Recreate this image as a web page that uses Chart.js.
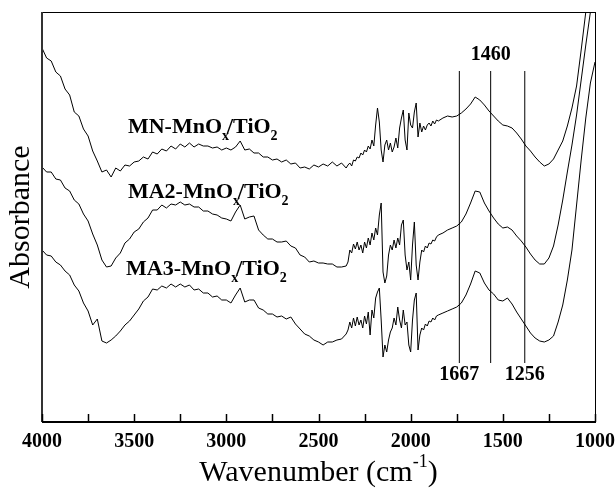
<!DOCTYPE html>
<html>
<head>
<meta charset="utf-8">
<script src="https://cdn.jsdelivr.net/npm/chart.js@4.4.0/dist/chart.umd.min.js"></script>
<style>
    html, body { margin: 0; padding: 0; background: #fff; }
</style>
</head>
<body>
<canvas id="myChart" width="616" height="489"></canvas>
<script>
// wavenumbers (cm-1), shared by the three spectra
var wavenumber = [
    4000, 3975, 3950, 3925, 3900, 3875, 3850, 3825, 3800, 3775,
    3750, 3725, 3700, 3675, 3650, 3625, 3600, 3575, 3550, 3525,
    3500, 3475, 3450, 3425, 3400, 3375, 3350, 3325, 3300, 3275,
    3250, 3225, 3200, 3175, 3150, 3125, 3100, 3075, 3050, 3025,
    3000, 2975, 2950, 2925, 2900, 2875, 2850, 2825, 2800, 2775,
    2750, 2725, 2700, 2675, 2650, 2625, 2600, 2575, 2550, 2525,
    2500, 2475, 2450, 2425, 2400, 2375,
    2350, 2340, 2330, 2320, 2310, 2300, 2290, 2280, 2270, 2260,
    2250, 2240, 2230, 2220, 2210, 2200, 2190, 2180, 2170, 2160,
    2150, 2140, 2130, 2120, 2110, 2100, 2090, 2080, 2070, 2060,
    2050, 2040, 2030, 2020, 2010, 2000, 1990, 1980, 1970, 1960,
    1950, 1940, 1930, 1920, 1910, 1900, 1890, 1880, 1870, 1860,
    1850, 1825, 1800, 1775, 1750, 1725, 1700, 1675, 1650, 1625,
    1600, 1575, 1550, 1525, 1500, 1475, 1450, 1425, 1400, 1375,
    1350, 1325, 1300, 1275, 1250, 1225, 1200, 1175, 1150, 1125,
    1100, 1075, 1050, 1025, 1000
];

var mnMnOx = [
    3.74, 3.64, 3.61, 3.50, 3.46, 3.33, 3.27, 3.10, 3.06, 2.93,
    2.86, 2.71, 2.61, 2.50, 2.52, 2.45, 2.54, 2.51, 2.57, 2.56,
    2.60, 2.61, 2.65, 2.63, 2.70, 2.68, 2.73, 2.71, 2.76, 2.73,
    2.78, 2.75, 2.79, 2.75, 2.78, 2.76, 2.76, 2.74, 2.75, 2.72,
    2.74, 2.72, 2.75, 2.81, 2.72, 2.73, 2.69, 2.69, 2.65, 2.65,
    2.62, 2.63, 2.60, 2.62, 2.58, 2.59, 2.54, 2.55, 2.53, 2.57,
    2.55, 2.58, 2.56, 2.60, 2.56, 2.59,
    2.54, 2.57, 2.59, 2.56, 2.62, 2.61, 2.65, 2.64, 2.69, 2.67,
    2.72, 2.70, 2.76, 2.73, 2.82, 2.76, 2.97, 3.14, 3.00, 2.72,
    2.60, 2.77, 2.82, 2.72, 2.79, 2.70, 2.75, 2.84, 2.74, 2.94,
    3.04, 3.12, 2.82, 2.72, 3.09, 2.97, 2.94, 3.10, 3.19, 2.85,
    2.99, 2.90, 2.96, 2.92, 2.97, 2.99, 2.96, 3.01, 2.98, 3.02,
    3.01, 3.04, 3.06, 3.05, 3.06, 3.09, 3.13, 3.18, 3.25, 3.22,
    3.17, 3.11, 3.06, 3.01, 2.97, 2.96, 2.94, 2.89, 2.83, 2.76,
    2.71, 2.65, 2.60, 2.56, 2.58, 2.63, 2.72, 2.81, 2.96, 3.14,
    3.36, 3.72, 4.10, 4.62, 5.12
];

var ma2MnOx = [
    2.55, 2.50, 2.50, 2.43, 2.42, 2.34, 2.31, 2.22, 2.18, 2.08,
    2.01, 1.88, 1.77, 1.62, 1.55, 1.56, 1.64, 1.69, 1.79, 1.83,
    1.90, 1.93, 2.00, 2.04, 2.12, 2.12, 2.17, 2.14, 2.18, 2.17,
    2.20, 2.17, 2.18, 2.15, 2.15, 2.11, 2.11, 2.08, 2.07, 2.04,
    2.03, 2.01, 2.10, 2.17, 2.03, 2.05, 2.06, 1.92, 1.87, 1.83,
    1.83, 1.80, 1.80, 1.81, 1.76, 1.74, 1.67, 1.65, 1.60, 1.61,
    1.59, 1.59, 1.58, 1.58, 1.55, 1.55,
    1.56, 1.60, 1.72, 1.69, 1.78, 1.73, 1.80, 1.72, 1.77, 1.69,
    1.80, 1.74, 1.84, 1.77, 1.89, 1.82, 1.94, 1.87, 2.07, 2.19,
    1.50, 1.39, 1.46, 1.67, 1.77, 1.72, 1.82, 1.74, 1.84, 1.77,
    1.97, 2.02, 1.67, 1.52, 1.60, 1.42, 1.77, 2.00, 1.57, 1.42,
    1.60, 1.72, 1.70, 1.76, 1.74, 1.79, 1.78, 1.82, 1.81, 1.85,
    1.87, 1.89, 1.92, 1.94, 1.96, 2.00, 2.08, 2.19, 2.31, 2.30,
    2.19, 2.11, 2.04, 1.98, 1.94, 1.95, 1.92, 1.86, 1.81, 1.75,
    1.68, 1.62, 1.58, 1.58, 1.64, 1.76, 1.97, 2.22, 2.50, 2.77,
    3.07, 3.42, 3.77, 4.10, 4.42
];

var ma3MnOx = [
    1.72, 1.67, 1.66, 1.60, 1.57, 1.51, 1.47, 1.37, 1.31, 1.19,
    1.11, 0.97, 1.03, 0.81, 0.79, 0.82, 0.86, 0.91, 0.97, 1.01,
    1.07, 1.13, 1.21, 1.25, 1.33, 1.32, 1.36, 1.34, 1.38, 1.35,
    1.38, 1.35, 1.37, 1.32, 1.33, 1.29, 1.29, 1.25, 1.26, 1.22,
    1.22, 1.19, 1.27, 1.34, 1.20, 1.22, 1.22, 1.14, 1.12, 1.08,
    1.08, 1.05, 1.06, 1.03, 1.05, 0.98, 0.93, 0.88, 0.86, 0.82,
    0.80, 0.77, 0.80, 0.80, 0.82, 0.83,
    0.88, 0.92, 1.00, 0.94, 1.04, 0.96, 1.05, 0.97, 1.02, 0.94,
    1.06, 0.98, 1.10, 0.87, 1.12, 1.04, 1.24, 1.30, 1.34, 1.02,
    0.65, 0.77, 0.70, 0.82, 0.90, 0.94, 1.04, 0.97, 1.15, 1.02,
    0.94, 1.12, 0.97, 1.00, 0.77, 0.70, 1.02, 1.22, 1.29, 0.72,
    0.87, 0.94, 0.92, 0.98, 0.96, 1.01, 1.00, 1.04, 1.02, 1.06,
    1.07, 1.09, 1.11, 1.13, 1.15, 1.19, 1.27, 1.38, 1.51, 1.49,
    1.39, 1.32, 1.28, 1.22, 1.21, 1.24, 1.18, 1.10, 1.03, 0.96,
    0.89, 0.84, 0.81, 0.80, 0.82, 0.86, 1.00, 1.17, 1.42, 1.72,
    2.17, 2.62, 3.04, 3.39, 3.60
];

// marker lines and their labels
var markAt = [1736, 1566, 1381];
var markLabels = ['1667', '1460', '1256'];
var markBottom = 0.59, markTop = 3.51;

// curve names: [main, sub, main, sub], anchor wavenumber and absorbance
var curveNames = [
    { parts: ['MN-MnO', 'x', '/TiO', '2'], w: 3534, a: 2.89 },
    { parts: ['MA2-MnO', 'x', '/TiO', '2'], w: 3534, a: 2.24 },
    { parts: ['MA3-MnO', 'x', '/TiO', '2'], w: 3544, a: 1.47 }
];

function pairs(ys) {
    return ys.map(function (v, i) { return { x: wavenumber[i], y: v }; });
}

var serif = "'Liberation Serif', 'Times New Roman', serif";

var decor = {
    id: 'decor',
    afterDatasetsDraw: function (chart) {
        var ctx = chart.ctx, a = chart.chartArea;
        var xs = chart.scales.x, ys = chart.scales.y;
        ctx.save();
        ctx.strokeStyle = '#000';
        ctx.lineWidth = 1;
        ctx.strokeRect(a.left + 0.5, a.top + 0.5, a.right - a.left, a.bottom - a.top);
        ctx.lineWidth = 2;
        ctx.strokeStyle = '#333';
        ctx.beginPath();
        ctx.moveTo(a.left, a.top);
        ctx.lineTo(a.left, a.bottom);
        ctx.stroke();
        ctx.strokeStyle = '#000';
        ctx.beginPath();
        ctx.moveTo(a.left, a.bottom);
        ctx.lineTo(a.right + 1, a.bottom);
        ctx.stroke();

        // ticks pointing inward
        ctx.lineWidth = 1.5;
        xs.ticks.forEach(function (t) {
            var px = Math.round(xs.getPixelForValue(t.value)) + 0.5;
            ctx.beginPath();
            ctx.moveTo(px, a.bottom);
            ctx.lineTo(px, a.bottom - 8);
            ctx.stroke();
        });

        // marker labels
        ctx.fillStyle = '#000';
        ctx.font = 'bold 20px ' + serif;
        ctx.textAlign = 'center';
        ctx.textBaseline = 'middle';
        ctx.fillText(markLabels[1], xs.getPixelForValue(markAt[1]), ys.getPixelForValue(3.67));
        ctx.fillText(markLabels[0], xs.getPixelForValue(markAt[0]), ys.getPixelForValue(0.47));
        ctx.fillText(markLabels[2], xs.getPixelForValue(markAt[2]), ys.getPixelForValue(0.47));

        // curve names with subscripts
        ctx.textAlign = 'left';
        ctx.textBaseline = 'alphabetic';
        curveNames.forEach(function (c) {
            var x = xs.getPixelForValue(c.w), y = ys.getPixelForValue(c.a);
            c.parts.forEach(function (p, i) {
                var sub = i % 2 === 1;
                ctx.font = 'bold ' + (sub ? 14 : 22) + 'px ' + serif;
                ctx.fillText(p, x, sub ? y + 7 : y);
                x += ctx.measureText(p).width - (sub ? 2 : 0);
            });
        });

        // axis titles
        ctx.font = '30px ' + serif;
        var t1 = 'Wavenumber (cm', t2 = '-1', t3 = ')';
        var w1 = ctx.measureText(t1).width, w3 = ctx.measureText(t3).width;
        ctx.font = '18px ' + serif;
        var w2 = ctx.measureText(t2).width;
        var x0 = (a.left + a.right) / 2 - (w1 + w2 + w3) / 2;
        ctx.font = '30px ' + serif;
        ctx.fillText(t1, x0, 481);
        ctx.font = '18px ' + serif;
        ctx.fillText(t2, x0 + w1, 467);
        ctx.font = '30px ' + serif;
        ctx.fillText(t3, x0 + w1 + w2, 481);

        ctx.translate(21, (a.top + a.bottom) / 2);
        ctx.rotate(-Math.PI / 2);
        ctx.textAlign = 'center';
        ctx.textBaseline = 'middle';
        ctx.font = '30px ' + serif;
        ctx.fillText('Absorbance', 0, 0);
        ctx.restore();
    }
};

var lineStyle = {
    borderColor: '#000',
    borderWidth: 1,
    pointRadius: 0,
    fill: false,
    tension: 0
};

var datasets = [
    Object.assign({ label: 'MN-MnOx/TiO2', data: pairs(mnMnOx) }, lineStyle),
    Object.assign({ label: 'MA2-MnOx/TiO2', data: pairs(ma2MnOx) }, lineStyle),
    Object.assign({ label: 'MA3-MnOx/TiO2', data: pairs(ma3MnOx) }, lineStyle)
];
markAt.forEach(function (w, i) {
    datasets.push(Object.assign({
        label: 'mark ' + markLabels[i],
        data: [{ x: w, y: markBottom }, { x: w, y: markTop }]
    }, lineStyle));
});

var myChart = document.getElementById('myChart');
var chart = new Chart(myChart, {
    type: 'line',
    data: { datasets: datasets },
    options: {
        responsive: false,
        animation: false,
        devicePixelRatio: 1,
        layout: { padding: { left: 42, top: 12, right: 21, bottom: 0 } },
        plugins: { legend: { display: false }, tooltip: { enabled: false } },
        scales: {
            x: {
                type: 'linear',
                reverse: true,
                min: 1000,
                max: 4000,
                grid: { display: false },
                border: { display: false },
                ticks: {
                    stepSize: 250,
                    autoSkip: false,
                    maxRotation: 0,
                    padding: 0,
                    color: '#000',
                    font: { family: serif, size: 20, weight: 'bold' },
                    callback: function (v) { return v % 500 === 0 ? String(v) : ''; }
                },
                afterFit: function (scale) {
                    scale.height = 67;
                    scale.paddingLeft = 0;
                    scale.paddingRight = 0;
                }
            },
            y: {
                display: false,
                min: 0,
                max: 4.1
            }
        }
    },
    plugins: [decor]
});
</script>
</body>
</html>
